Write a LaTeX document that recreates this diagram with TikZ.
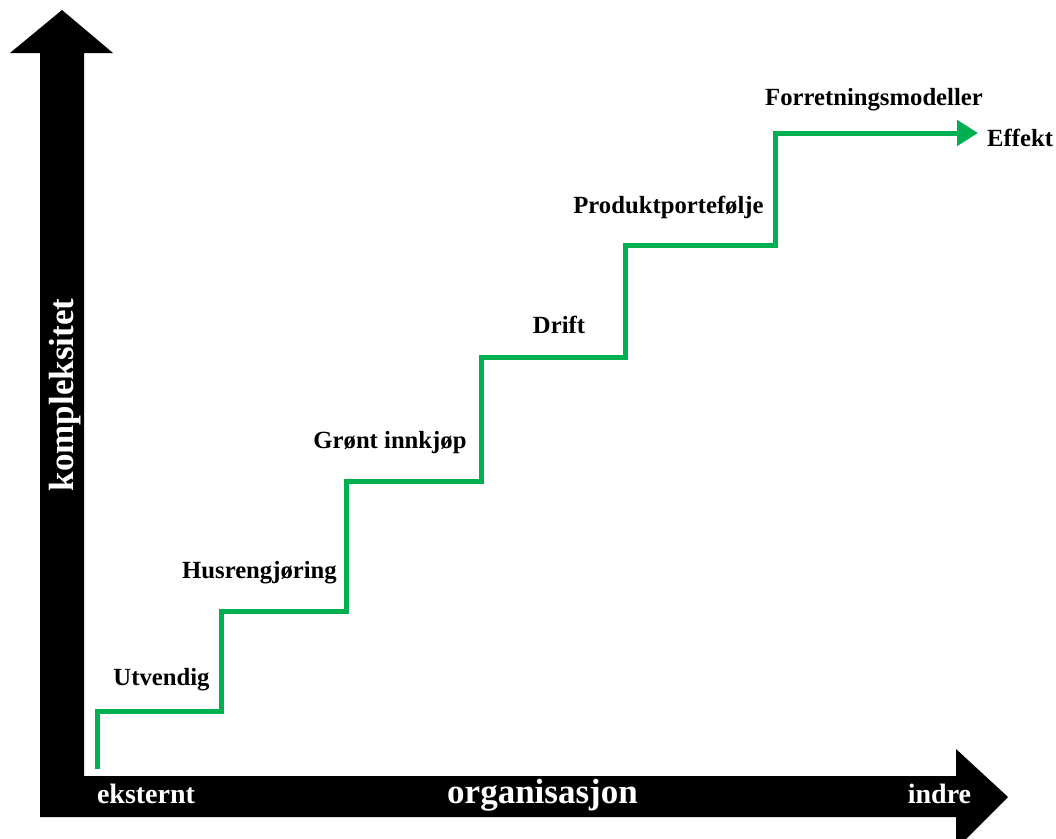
\documentclass[tikz,border=0pt]{standalone}
\usepackage{fontspec}
\setmainfont{Liberation Serif}
\usetikzlibrary{arrows.meta}
\definecolor{stepgreen}{HTML}{00B050}
\begin{document}
\begin{tikzpicture}[x=1pt,y=-1pt,
  axisfill/.style={fill=black,draw=none},
  steplabel/.style={font=\fontsize{24.7}{28}\selectfont\bfseries,text=black,inner sep=0pt,anchor=base},
  axislabel/.style={font=\fontsize{28}{32}\selectfont\bfseries,text=white,inner sep=0pt,anchor=base},
  axistitle/.style={font=\fontsize{35}{40}\selectfont\bfseries,text=white,inner sep=0pt,anchor=base},
  stairline/.style={draw=stepgreen,line width=5pt,line join=miter,-{Triangle[length=21pt,width=25pt]}}]
\useasboundingbox (0,0) rectangle (1056,838);
% vertical axis arrow
\fill[axisfill] (40,817) -- (40,53) -- (10,53) -- (62,10) -- (113,53) -- (84,53) -- (84,776) -- (956,776) -- (956,749) -- (1008,797) -- (956,849) -- (956,817) -- cycle;
% staircase corners
\coordinate (s0) at (97,769);
\coordinate (s1) at (97,711);
\coordinate (s2) at (221,711);
\coordinate (s3) at (221,611);
\coordinate (s4) at (346,611);
\coordinate (s5) at (346,481);
\coordinate (s6) at (481,481);
\coordinate (s7) at (481,357);
\coordinate (s8) at (625,357);
\coordinate (s9) at (625,245);
\coordinate (s10) at (775,245);
\coordinate (s11) at (775,133);
\coordinate (s12) at (978,133);
\draw[stairline] (s0) -- (s1) -- (s2) -- (s3) -- (s4) -- (s5) -- (s6) -- (s7) -- (s8) -- (s9) -- (s10) -- (s11) -- (s12);
% step labels
\node[steplabel] (utv) at (161.5,685) {Utvendig};
\node[steplabel] (hus) at (259.5,578) {Husrengjøring};
\node[steplabel] (gron) at (390,448) {Grønt innkjøp};
\node[steplabel] (drift) at (559,333) {Drift};
\node[steplabel] (prod) at (668.5,213) {Produktportefølje};
\node[steplabel] (forr) at (874,105) {Forretningsmodeller};
\node[steplabel,anchor=base west] (eff) at (987,146) {Effekt};
% axis labels
\node[axislabel] (eks) at (146,803) {eksternt};
\node[axistitle] (org) at (542.5,803) {organisasjon};
\node[axislabel] (ind) at (939.5,803) {indre};
\node[axistitle,rotate=90] (kom) at (73,395) {kompleksitet};
\end{tikzpicture}
\end{document}
